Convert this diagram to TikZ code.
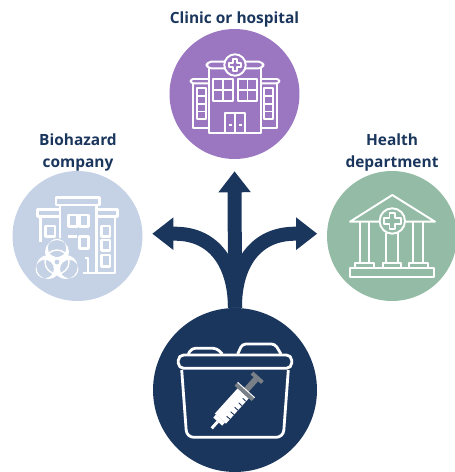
\documentclass[tikz,border=0pt]{standalone}
\usepackage{fontspec}
\setmainfont{Open Sans}
\usetikzlibrary{arrows.meta}
\definecolor{navy}{HTML}{1B365D}
\definecolor{clinicpurple}{HTML}{9B77C2}
\definecolor{biohazardblue}{HTML}{C5D1E4}
\definecolor{healthgreen}{HTML}{93BBA5}
\definecolor{syringegrey}{HTML}{7A8088}
\tikzset{
    bigcircle/.style={circle, draw=none, inner sep=0pt, minimum size=2.6cm},
    tag/.style={text=navy, align=center, font=\fontsize{8.8}{12.3}\selectfont\bfseries, inner sep=0pt},
    forkarrow/.style={draw=navy, line width=0.28cm, -{Triangle[width=0.62cm,length=0.42cm]}},
    iconline/.style={draw=white, line width=1.1pt, line join=round},
    thickline/.style={draw=white, line width=1.6pt, line join=round},
    biopetal/.style={fill=white, even odd rule},
    plusmark/.pic={\draw[iconline] (-6,-2) -- (-2,-2) -- (-2,-6) -- (2,-6) -- (2,-2) -- (6,-2) -- (6,2) -- (2,2) -- (2,6) -- (-2,6) -- (-2,2) -- (-6,2) -- cycle;}
}
\begin{document}
\begin{tikzpicture}[x=0.02cm, y=-0.02cm]
    \useasboundingbox (0,0) rectangle (454,472);

    %%draw the circles
    \node[bigcircle, fill=clinicpurple] (clinic) at (234.5,94) {};
    \node[bigcircle, fill=biohazardblue] (biohazard) at (77.5,236) {};
    \node[bigcircle, fill=healthgreen] (health) at (392,236) {};
    \node[bigcircle, fill=navy, minimum size=3.28cm] (sharps) at (235,390) {};

    %%the labels
    \node[tag] (clinictag) at (234.5,19.5) {Clinic or hospital};
    \node[tag] (biohazardtag) at (78,152.5) {Biohazard\\company};
    \node[tag] (healthtag) at (392,152.5) {Health\\department};

    %%draw the arrows
    \draw[forkarrow, shorten >=6.8pt] (sharps.north) -- (clinic.south);
    \draw[forkarrow, shorten >=5.4pt] (sharps.north) .. controls (234.7,265) and (215,233.7) .. (175,233.7) -- (biohazard.2);
    \draw[forkarrow, shorten >=5.4pt] (sharps.north) .. controls (234.7,265) and (255,233.7) .. (295,233.7) -- (health.178);

    %%clinic: the wings
    \draw[iconline] (192.7,83.3) -- (192.7,128.3) -- (209.3,128.3);
    \draw[iconline] (277.3,83.3) -- (277.3,128.3) -- (260.7,128.3);
    \draw[iconline, rounded corners=1.5] (209.3,83.3) -- (190.7,83.3) -- (190.7,79) -- (209.3,79);
    \draw[iconline, rounded corners=1.5] (260.7,83.3) -- (279.3,83.3) -- (279.3,79) -- (260.7,79);
    \draw[iconline] (196.7,88.3) rectangle (205.7,119.3);
    \draw[iconline] (196.7,96) to (205.7,96);
    \draw[iconline] (196.7,103.8) to (205.7,103.8);
    \draw[iconline] (196.7,111.5) to (205.7,111.5);
    \draw[iconline] (264.3,88.3) rectangle (273.3,119.3);
    \draw[iconline] (264.3,96) to (273.3,96);
    \draw[iconline] (264.3,103.8) to (273.3,103.8);
    \draw[iconline] (264.3,111.5) to (273.3,111.5);
    %%clinic: the middle block
    \draw[iconline] (209.3,68.3) rectangle (260.7,133.3);
    \draw[iconline, fill=clinicpurple, rounded corners=2.5] (206.7,68.3) rectangle (263.3,61.7);
    \draw[iconline] (212.7,79.3) rectangle (232.7,101);
    \draw[iconline] (222.7,79.3) to (222.7,101);
    \draw[iconline] (212.7,90) to (232.7,90);
    \draw[iconline] (237.7,79.3) rectangle (257.3,101);
    \draw[iconline] (247.5,79.3) to (247.5,101);
    \draw[iconline] (237.7,90) to (257.3,90);
    \draw[iconline] (224.7,113.3) rectangle (245,133.3);
    \draw[iconline] (235,113.3) to (235,133.3);
    \draw[iconline] (228.5,125) to (231.5,125);
    \draw[iconline] (238.5,125) to (241.5,125);
    \draw[iconline, fill=clinicpurple] (235,65) circle (10.7);
    \pic at (235,65) {plusmark};

    %%biohazard: the building
    \draw[thickline] (56,197.3) rectangle (99.3,205);
    \draw[thickline] (37.3,209.3) rectangle (60,216.7);
    \draw[thickline] (96.7,209.3) rectangle (117.3,216.7);
    \draw[thickline] (60,205) -- (60,240);
    \draw[thickline] (96.7,205) -- (96.7,273);
    \draw[thickline] (40.7,216.7) -- (40.7,241.7);
    \draw[thickline] (115,216.7) -- (115,273) -- (83.3,273);
    \draw[thickline] (45.7,226) rectangle (55,236.7);
    \draw[thickline] (68.3,215) rectangle (77.3,226.7);
    \draw[thickline] (79.3,215) rectangle (88.3,226.7);
    \draw[thickline] (68.3,236.7) -- (77.3,236.7);
    \draw[thickline] (79.3,236.7) rectangle (88.3,248.3);
    \draw[thickline] (101.7,226) rectangle (110,236.7);
    \draw[thickline] (101.7,240) rectangle (110,250.7);
    \draw[thickline] (101.7,255) rectangle (110,266.7);
    \draw[thickline] (85,258) -- (88,258) -- (88,273);
    %%biohazard: the sign
    \fill[biohazardblue] (57,262) circle (24);
    \fill[biopetal] (57,252) circle (12) (57,248) circle (9.2);
    \fill[biopetal] (65.7,267) circle (12) (69.2,269) circle (9.2);
    \fill[biopetal] (48.3,267) circle (12) (44.8,269) circle (9.2);
    \draw[draw=white, line width=0.8pt] (57,262) circle (12);
    \fill[biohazardblue] (57,262) circle (2.4);

    %%health: the temple
    \draw[iconline] (350,221.7) -- (392.3,195) -- (435,221.7) -- cycle;
    \draw[iconline] (360,221.7) -- (360,263.3);
    \draw[iconline] (369.3,221.7) -- (369.3,263.3);
    \draw[iconline] (386,233) -- (386,263.3);
    \draw[iconline] (398.3,233) -- (398.3,263.3);
    \draw[iconline] (413.3,221.7) -- (413.3,263.3);
    \draw[iconline] (423.3,221.7) -- (423.3,263.3);
    \draw[iconline] (355,267.7) -- (355,263.3) -- (374.3,263.3) -- (374.3,267.7);
    \draw[iconline] (382.7,267.7) -- (382.7,263.3) -- (400.7,263.3) -- (400.7,267.7);
    \draw[iconline] (409,267.7) -- (409,263.3) -- (428.3,263.3) -- (428.3,267.7);
    \draw[iconline] (350,267.7) rectangle (434,276.7);
    \draw[iconline, fill=healthgreen] (392.3,221) circle (12.7);
    \pic[scale=1.4] at (392.3,221) {plusmark};

    %%sharps: the bin
    \draw[thickline, rounded corners=3] (178.3,355) rectangle (291.7,368.3);
    \draw[thickline, rounded corners=4] (181.7,370) -- (186.7,437.3) -- (283.3,437.3) -- (288.3,370);
    \draw[thickline, rounded corners=2] (188.3,354) -- (191.7,348.3) -- (216.7,348.3) -- (222.3,354);
    \draw[thickline, rounded corners=2] (237.7,354) -- (242.3,344) -- (275,344) -- (281,354);

    %%sharps: the syringe
    \begin{scope}[shift={(211.7,428.3)}, rotate=48]
        \fill[white] (0,-1.5) rectangle (9,1.5);
        \fill[white] (9,-6) rectangle (13,6);
        \fill[white] (13,-7.5) rectangle (47,7.5);
        \fill[syringegrey] (47,-3) rectangle (66,3);
        \fill[syringegrey] (47,-11.5) rectangle (51,11.5);
        \fill[white] (51,-11.5) rectangle (52,11.5);
        \fill[syringegrey] (66,-7) rectangle (70,7);
        \draw[navy, line width=0.5pt] (19,7.5) to (19,3);
        \draw[navy, line width=0.5pt] (25,7.5) to (25,3);
        \draw[navy, line width=0.5pt] (31,7.5) to (31,3);
        \draw[navy, line width=0.5pt] (37,7.5) to (37,3);
        \draw[navy, line width=0.5pt] (43,7.5) to (43,3);
    \end{scope}
\end{tikzpicture}
\end{document}
